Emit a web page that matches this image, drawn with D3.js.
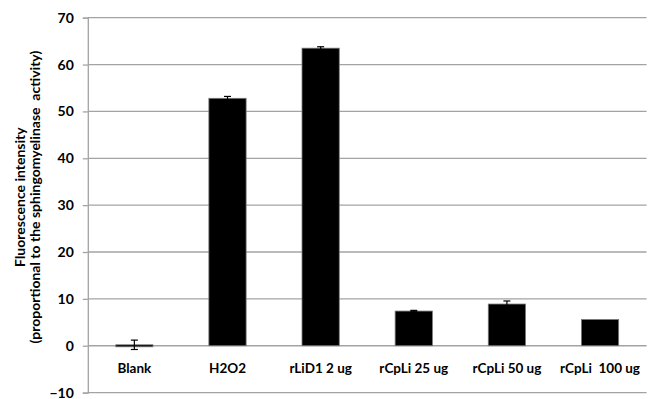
<!DOCTYPE html>
<html>
<head>
<meta charset="utf-8">
<script src="https://cdn.jsdelivr.net/npm/d3@7"></script>
<style>
  html, body { margin: 0; padding: 0; background: #fff; }
  svg text { font-family: Lato, "Open Sans", sans-serif; font-weight: bold; fill: #000; }
</style>
</head>
<body>
<div id="chart"></div>
<script>
// data
const categories = ["Blank", "H2O2", "rLiD1 2 ug", "rCpLi 25 ug", "rCpLi 50 ug", "rCpLi  100 ug"];
const values = [0.2, 52.8, 63.5, 7.4, 8.9, 5.6];
const errors = [1.0, 0.4, 0.3, 0.15, 0.65, 0];
const yTicks = [-10, 0, 10, 20, 30, 40, 50, 60, 70];

const width = 652, height = 399;
const margin = { top: 17.7, right: 5.4, bottom: 6.4, left: 87.8 };
const GRID_COLOR = "#a3a3a3";

const svg = d3.select("#chart").append("svg")
  .attr("width", width)
  .attr("height", height);

const x = d3.scaleBand()
  .domain(categories)
  .range([margin.left, width - margin.right])
  .paddingInner(0.6)
  .paddingOuter(0.3);

const y = d3.scaleLinear()
  .domain([-10, 70])
  .range([height - margin.bottom, margin.top]);

// gridlines
svg.append("g")
  .selectAll("line")
  .data(yTicks)
  .enter()
  .append("line")
  .attr("x1", margin.left)
  .attr("x2", width - margin.right)
  .attr("y1", (d) => y(d))
  .attr("y2", (d) => y(d))
  .attr("stroke", GRID_COLOR)
  .attr("stroke-width", 1.3);

// y axis
const yAxis = svg.append("g")
  .attr("transform", `translate(${margin.left},0)`)
  .call(d3.axisLeft(y).tickValues(yTicks).tickSize(5).tickPadding(9));
yAxis.select(".domain").attr("stroke", GRID_COLOR).attr("stroke-width", 1.3);
yAxis.selectAll(".tick line").attr("stroke", GRID_COLOR).attr("stroke-width", 1.3);
yAxis.selectAll(".tick text")
  .style("font-family", "Lato, sans-serif")
  .style("font-weight", "bold")
  .style("font-size", "14px")
  .attr("fill", "#000");

// bars
svg.append("g")
  .selectAll("rect")
  .data(values)
  .enter()
  .append("rect")
  .attr("x", (d, i) => x(categories[i]))
  .attr("width", x.bandwidth())
  .attr("y", (d) => y(Math.max(0, d)))
  .attr("height", (d) => Math.max(2, Math.abs(y(0) - y(d))))
  .attr("fill", "#000")
  .attr("stroke", "#7a7a7a")
  .attr("stroke-width", 0.8);

// error bars
const err = svg.append("g")
  .selectAll("g")
  .data(values)
  .enter()
  .append("g")
  .filter((d, i) => errors[i] > 0);

err.append("line")
  .attr("x1", (d, i) => x(categories[i]) + x.bandwidth() / 2)
  .attr("x2", (d, i) => x(categories[i]) + x.bandwidth() / 2)
  .attr("y1", (d, i) => y(d - errors[i]))
  .attr("y2", (d, i) => y(d + errors[i]))
  .attr("stroke", "#000")
  .attr("stroke-width", 1.2);

[1, -1].forEach((sign) => {
  err.append("line")
    .attr("x1", (d, i) => x(categories[i]) + x.bandwidth() / 2 - 3.5)
    .attr("x2", (d, i) => x(categories[i]) + x.bandwidth() / 2 + 3.5)
    .attr("y1", (d, i) => y(d + sign * errors[i]))
    .attr("y2", (d, i) => y(d + sign * errors[i]))
    .attr("stroke", "#000")
    .attr("stroke-width", 1.2);
});

// category labels, placed under the zero line
svg.append("g")
  .selectAll("text")
  .data(categories)
  .enter()
  .append("text")
  .attr("x", (d) => x(d) + x.bandwidth() / 2)
  .attr("y", y(0) + 27)
  .attr("text-anchor", "middle")
  .style("font-size", "13.5px")
  .style("white-space", "pre")
  .text((d) => d);

// y title, two lines
const title = svg.append("text")
  .attr("transform", `translate(25,${(margin.top + height - margin.bottom) / 2 - 8}) rotate(-90)`)
  .attr("text-anchor", "middle")
  .style("font-size", "14px");
title.append("tspan").attr("x", 0).attr("dy", 0).text("Fluorescence intensity");
title.append("tspan").attr("x", 0).attr("dy", 15).style("white-space", "pre")
  .text("(proportional to the sphingomyelinase  activity)");
</script>
</body>
</html>
